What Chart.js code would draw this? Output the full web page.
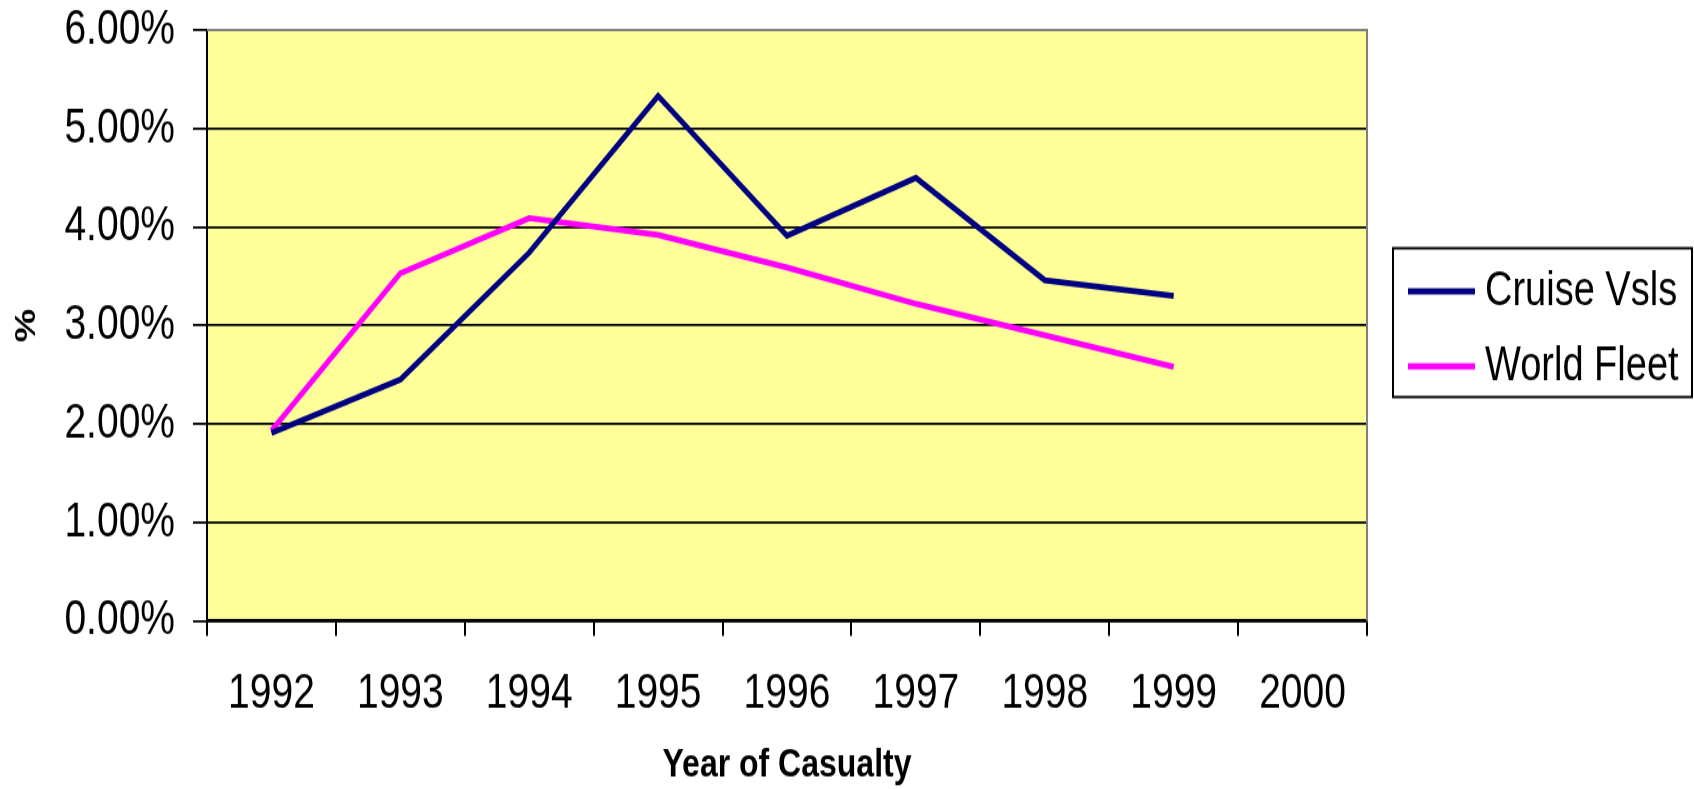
<!DOCTYPE html>
<html lang="en">

<head>
    <meta charset="UTF-8">
    <title>Casualty rate</title>
    <script src="https://cdn.jsdelivr.net/npm/chart.js"></script>
    <style>
        html, body { margin: 0; padding: 0; background: #fff; }
        /* o original tem o texto esticado na vertical: desenha mais baixo e estica */
        #casualtyChart { width: 1694px; height: 789px; }
    </style>
</head>

<body>
    <canvas id="casualtyChart" width="1694" height="631" style="width:1694px;height:789px"></canvas>

<script>
    var anos = ["1992", "1993", "1994", "1995", "1996", "1997", "1998", "1999", "2000"];
    var cruise = [1.91, 2.45, 3.74, 5.33, 3.91, 4.50, 3.46, 3.30, null];
    var worldFleet = [1.93, 3.53, 4.09, 3.92, 3.59, 3.22, 2.90, 2.58, null];
    var yTicks = [0, 1, 2, 3, 4, 5, 6];

    var fonte = "'Liberation Sans', Arial, sans-serif";

    // fundo amarelo e borda cinza da area do grafico
    var fundoPlot = {
        id: "fundoPlot",
        beforeDraw: function (chart) {
            var a = chart.chartArea;
            var ctx = chart.ctx;
            ctx.save();
            ctx.fillStyle = "#FFFF99";
            ctx.fillRect(a.left, a.top, a.right - a.left, a.bottom - a.top);
            ctx.restore();
        },
        afterDraw: function (chart) {
            var a = chart.chartArea;
            var ctx = chart.ctx;
            ctx.save();
            ctx.strokeStyle = "#808080";
            ctx.lineWidth = 2;
            ctx.beginPath();
            ctx.moveTo(a.left, a.top);
            ctx.lineTo(a.right, a.top);
            ctx.lineTo(a.right, a.bottom);
            ctx.stroke();
            ctx.restore();
        }
    };

    // legenda com caixa, desenhada a mao
    var legendaCaixa = {
        id: "legendaCaixa",
        afterDraw: function (chart) {
            var ctx = chart.ctx;
            var x = 1393, y = 198.5, w = 299, h = 119;
            ctx.save();
            ctx.fillStyle = "#fff";
            ctx.fillRect(x, y, w, h);
            ctx.strokeStyle = "#000";
            ctx.lineWidth = 2;
            ctx.strokeRect(x, y, w, h);
            ctx.font = "38px " + fonte;
            ctx.textBaseline = "middle";
            ctx.fillStyle = "#000";
            chart.data.datasets.forEach(function (ds, i) {
                var ly = 233 + i * 60;
                ctx.strokeStyle = ds.borderColor;
                ctx.lineWidth = 5;
                ctx.beginPath();
                ctx.moveTo(1408, ly);
                ctx.lineTo(1475, ly);
                ctx.stroke();
                ctx.fillText(ds.label, 1485, ly + 1);
            });
            ctx.restore();
        }
    };

    new Chart(document.getElementById("casualtyChart"), {
        type: "line",
        data: {
            labels: anos,
            datasets: [{
                label: "Cruise Vsls",
                data: cruise,
                borderColor: "#000080",
                borderWidth: 4.8,
                pointRadius: 0,
                tension: 0
            }, {
                label: "World Fleet",
                data: worldFleet,
                borderColor: "#FF00FF",
                borderWidth: 4.8,
                pointRadius: 0,
                tension: 0
            }]
        },
        options: {
            responsive: false,
            animation: false,
            layout: { padding: { left: 0, top: 24, right: 327, bottom: 0 } },
            plugins: {
                legend: { display: false },
                tooltip: { enabled: false }
            },
            scales: {
                x: {
                    offset: true,
                    grid: {
                        offset: true,
                        drawOnChartArea: false,
                        color: "#000",
                        lineWidth: 2,
                        tickLength: 12
                    },
                    border: { color: "#000", width: 2.4 },
                    ticks: {
                        color: "#000",
                        padding: 23,
                        maxRotation: 0,
                        font: { family: fonte, size: 39 }
                    },
                    title: {
                        display: true,
                        text: "Year of Casualty",
                        color: "#000",
                        padding: 0,
                        font: { family: fonte, size: 32, weight: "bold" }
                    },
                    afterFit: function (scale) { scale.height = 134.4; }
                },
                y: {
                    min: 0,
                    max: 6,
                    afterBuildTicks: function (scale) {
                        scale.ticks = yTicks.map(function (v) { return { value: v }; });
                    },
                    grid: {
                        color: function (c) { return c.tick && c.tick.value === 6 ? "#808080" : "#000"; },
                        tickColor: "#000",
                        lineWidth: 1.8,
                        tickLength: 14
                    },
                    border: { color: "#000", width: 2 },
                    ticks: {
                        color: "#000",
                        padding: 18,
                        font: { family: fonte, size: 39 },
                        callback: function (v) { return Number(v).toFixed(2) + "%"; }
                    },
                    title: {
                        display: true,
                        text: "%",
                        color: "#000",
                        padding: 9,
                        font: { family: fonte, size: 30, weight: "bold" }
                    },
                    afterFit: function (scale) {
                        scale.width = 207;
                        scale.paddingTop = 0;
                        scale.paddingBottom = 0;
                    }
                }
            }
        },
        plugins: [fundoPlot, legendaCaixa]
    });
</script>
</body>

</html>
